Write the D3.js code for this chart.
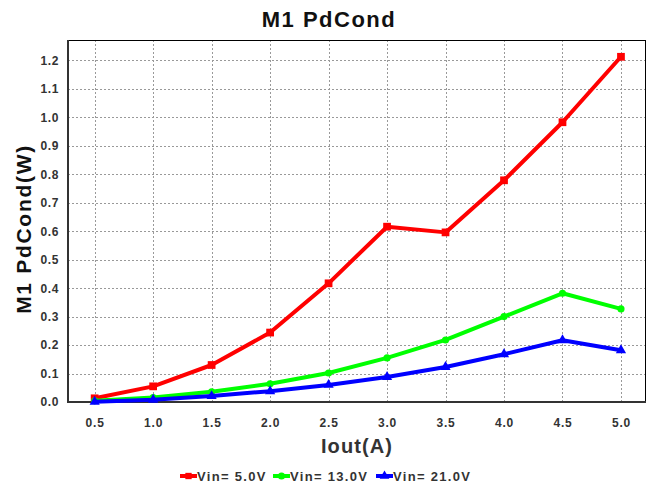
<!DOCTYPE html>
<html><head><meta charset="utf-8">
<script src="https://cdn.jsdelivr.net/npm/d3@7"></script>
<style>body{margin:0;background:#fff;} svg{display:block;font-family:"Liberation Sans",Arial,sans-serif;}</style>
</head><body>
<script>
const xValues = [0.5,1.0,1.5,2.0,2.5,3.0,3.5,4.0,4.5,5.0];
const vin5  = [0.013,0.055,0.130,0.244,0.417,0.616,0.596,0.779,0.983,1.213];
const vin13 = [0.004,0.016,0.036,0.064,0.102,0.155,0.218,0.300,0.382,0.327];
const vin21 = [0.001,0.008,0.021,0.038,0.060,0.088,0.123,0.168,0.217,0.182];
const seriesNames = ["Vin= 5.0V","Vin= 13.0V","Vin= 21.0V"];
const seriesColors = ["#ff0000","#00ff00","#0000ff"];
const seriesMarkers = ["square","circle","triangle"];
const xTicks = [0.5,1.0,1.5,2.0,2.5,3.0,3.5,4.0,4.5,5.0];
const yTicks = [0,0.1,0.2,0.3,0.4,0.5,0.6,0.7,0.8,0.9,1.0,1.1,1.2];

const W=654,H=491;
const m={l:68,r:8,t:40,b:89};
const svg=d3.select("body").append("svg").attr("width",W).attr("height",H);
const x=d3.scaleLinear().domain([0.272,5.214]).range([m.l,W-m.r]);
const y=d3.scaleLinear().domain([0,1.272]).range([H-m.b,m.t]);

// grid
const g=svg.append("g");
g.selectAll(".gx").data(xTicks).join("line")
 .attr("x1",d=>Math.round(x(d))+0.5).attr("x2",d=>Math.round(x(d))+0.5)
 .attr("y1",m.t).attr("y2",H-m.b)
 .attr("stroke","#999").attr("stroke-width",1).attr("stroke-dasharray","2,2");
g.selectAll(".gy").data(yTicks.slice(1)).join("line")
 .attr("y1",d=>Math.round(y(d))+0.5).attr("y2",d=>Math.round(y(d))+0.5)
 .attr("x1",m.l).attr("x2",W-m.r)
 .attr("stroke","#999").attr("stroke-width",1).attr("stroke-dasharray","2,2");

// frame
svg.append("rect").attr("x",m.l+0.5).attr("y",m.t+0.5)
 .attr("width",W-m.r-m.l-1).attr("height",H-m.b-m.t-1)
 .attr("fill","none").attr("stroke","#000").attr("stroke-width",1);
svg.append("line").attr("x1",m.l).attr("x2",m.l).attr("y1",m.t).attr("y2",H-m.b+1).attr("stroke","#333").attr("stroke-width",2);
svg.append("line").attr("x1",m.l).attr("x2",W-m.r).attr("y1",H-m.b).attr("y2",H-m.b).attr("stroke","#333").attr("stroke-width",2);

// axes (labels only)
const xa=svg.append("g").attr("transform",`translate(0,${H-m.b})`)
 .call(d3.axisBottom(x).tickValues(xTicks).tickFormat(d3.format(".1f")).tickSize(0).tickPadding(16));
xa.select(".domain").remove();
xa.selectAll("text").attr("font-size",12).attr("font-weight","bold").attr("fill","#333")
 .attr("letter-spacing","0.8").attr("font-family","Liberation Sans, Arial, sans-serif");
const ya=svg.append("g").attr("transform",`translate(${m.l},0)`)
 .call(d3.axisLeft(y).tickValues(yTicks).tickFormat(d3.format(".1f")).tickSize(0).tickPadding(9));
ya.select(".domain").remove();
ya.selectAll("text").attr("font-size",12).attr("font-weight","bold").attr("fill","#333")
 .attr("letter-spacing","0.6").attr("font-family","Liberation Sans, Arial, sans-serif");

// titles
svg.append("text").attr("x",329).attr("y",27).attr("text-anchor","middle")
 .attr("font-size",22).attr("font-weight","bold").attr("fill","#111").attr("letter-spacing","1.5").text("M1  PdCond");
svg.append("text").attr("transform","translate(31,229) rotate(-90)").attr("text-anchor","middle")
 .attr("font-size",21).attr("font-weight","bold").attr("fill","#111").attr("letter-spacing","1.7").text("M1  PdCond(W)");
svg.append("text").attr("x",357).attr("y",453).attr("text-anchor","middle")
 .attr("font-size",20).attr("font-weight","bold").attr("fill","#333").attr("letter-spacing","1.1").text("Iout(A)");

// series
const allSeries=[vin5,vin13,vin21];
const line=d3.line().x((d,i)=>x(xValues[i])).y(d=>y(d));
const sym={square:d3.symbolSquare,circle:d3.symbolCircle,triangle:d3.symbolTriangle};
const sizes={square:60,circle:40,triangle:45};
allSeries.forEach((vals,si)=>{
  svg.append("path").datum(vals).attr("d",line).attr("fill","none")
   .attr("stroke",seriesColors[si]).attr("stroke-width",4).attr("stroke-linejoin","round");
  svg.append("g").selectAll("path").data(vals).join("path")
   .attr("transform",(d,i)=>`translate(${x(xValues[i])},${y(d)})`)
   .attr("d",d3.symbol().type(sym[seriesMarkers[si]]).size(sizes[seriesMarkers[si]]))
   .attr("fill",seriesColors[si]);
});

// legend
const legX=[180,273,376];
const lg=svg.append("g");
seriesNames.forEach((n,i)=>{
  const lx=legX[i], ly=476;
  lg.append("line").attr("x1",lx).attr("x2",lx+17).attr("y1",ly).attr("y2",ly)
   .attr("stroke",seriesColors[i]).attr("stroke-width",4);
  lg.append("path").attr("transform",`translate(${lx+8.5},${ly})`)
   .attr("d",d3.symbol().type(sym[seriesMarkers[i]]).size(40)).attr("fill",seriesColors[i]);
  lg.append("text").attr("x",lx+17).attr("y",ly+5).attr("font-size",13).attr("font-weight","bold")
   .attr("fill","#333").attr("letter-spacing","1.3").text(n);
});
</script>
</body></html>
